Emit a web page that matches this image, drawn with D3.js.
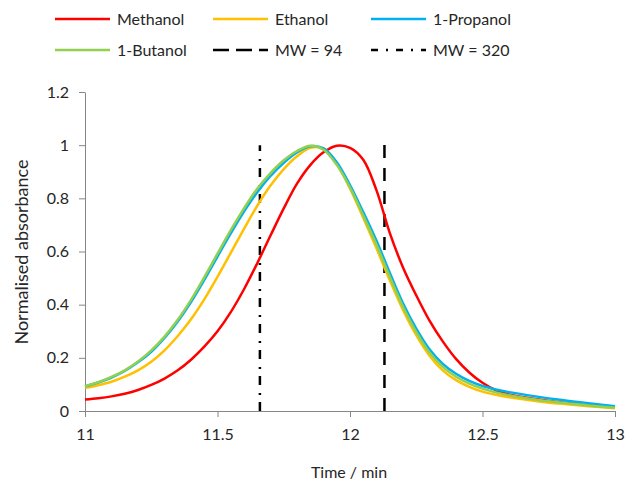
<html><head>
  <script src="https://d3js.org/d3.v7.min.js"></script>
  <style>
    body { margin: 0; background: white; }
    text { font-family: 'Lato', 'Open Sans', sans-serif; fill: #262626; }
    .axis path, .axis line { stroke: #868686; }
    .axis text { font-size: 16px; fill: #262626; }
  </style>
</head>
<body>
  <svg id="plot" width="631" height="485"></svg>
  <script>
    // data
    const times = [11.0, 11.05, 11.1, 11.15, 11.2, 11.25, 11.3, 11.35, 11.4, 11.45, 11.5, 11.55, 11.6, 11.65, 11.7, 11.75,
                   11.8, 11.85, 11.9, 11.95, 12.0, 12.05, 12.1, 12.15, 12.2, 12.25, 12.3, 12.35, 12.4, 12.45, 12.5, 12.55,
                   12.6, 12.7, 12.8, 12.9, 13.0]
    const methanol = [0.043, 0.048, 0.055, 0.065, 0.079, 0.098, 0.122, 0.153, 0.193, 0.242, 0.300, 0.372, 0.458, 0.556, 0.660, 0.762,
                      0.855, 0.925, 0.973, 0.998, 0.990, 0.945, 0.830, 0.670, 0.540, 0.435, 0.340, 0.262, 0.196, 0.145, 0.106, 0.078,
                      0.062, 0.045, 0.032, 0.022, 0.013]
    const ethanol = [0.087, 0.097, 0.110, 0.129, 0.153, 0.185, 0.228, 0.282, 0.345, 0.420, 0.505, 0.595, 0.685, 0.772, 0.848, 0.910,
                     0.958, 0.990, 0.988, 0.932, 0.837, 0.727, 0.612, 0.492, 0.380, 0.285, 0.208, 0.153, 0.116, 0.091, 0.073, 0.061,
                     0.052, 0.038, 0.027, 0.018, 0.010]
    const propanol = [0.092, 0.107, 0.126, 0.151, 0.183, 0.223, 0.275, 0.337, 0.410, 0.493, 0.581, 0.668, 0.750, 0.823, 0.884, 0.934,
                      0.973, 0.996, 0.988, 0.936, 0.850, 0.748, 0.640, 0.520, 0.405, 0.310, 0.232, 0.177, 0.140, 0.113, 0.094, 0.081,
                      0.071, 0.055, 0.041, 0.029, 0.018]
    const butanol = [0.093, 0.108, 0.128, 0.153, 0.186, 0.228, 0.280, 0.343, 0.418, 0.503, 0.592, 0.680, 0.762, 0.836, 0.895, 0.943,
                     0.978, 0.998, 0.983, 0.926, 0.840, 0.735, 0.625, 0.505, 0.392, 0.297, 0.220, 0.166, 0.129, 0.103, 0.084, 0.070,
                     0.059, 0.043, 0.031, 0.021, 0.012]
    const seriesNames = ["Methanol", "Ethanol", "1-Propanol", "1-Butanol"]
    const seriesColors = ["#FF0000", "#FFC000", "#00B0F0", "#92D050"]
    const markerNames = ["MW = 94", "MW = 320"]
    const markerTimes = [12.13, 11.66]
    const markerTops = [1.01, 1.0]
    const xTicks = [11, 11.5, 12, 12.5, 13]
    const yTicks = [0, 0.2, 0.4, 0.6, 0.8, 1, 1.2]

    const svg = d3.select("#plot")
    const margin = {top: 92, bottom: 74, left: 85, right: 16}
    const plotWidth = 631 - margin.left - margin.right
    const plotHeight = 485 - margin.top - margin.bottom

    const x = d3.scaleLinear().domain([11, 13]).range([0, plotWidth])
    const y = d3.scaleLinear().domain([0, 1.2]).range([plotHeight, 0])

    const g = svg.append("g").attr("transform", `translate(${margin.left},${margin.top})`)

    // axes
    g.append("g").attr("class", "axis")
      .attr("transform", `translate(0,${plotHeight})`)
      .call(d3.axisBottom(x).tickValues(xTicks).tickSize(6).tickSizeOuter(0).tickPadding(12).tickFormat(d3.format("")))
    g.append("g").attr("class", "axis")
      .call(d3.axisLeft(y).tickValues(yTicks).tickSize(6).tickSizeOuter(0).tickPadding(10).tickFormat(d3.format("")))

    // MW markers
    const dashes = ["13,10", "9,7,2,8"]
    markerTimes.forEach((t, i) => {
      g.append("line")
        .attr("x1", x(t)).attr("x2", x(t))
        .attr("y1", y(0)).attr("y2", y(markerTops[i]))
        .attr("stroke", "black").attr("stroke-width", 2.5)
        .attr("stroke-dasharray", dashes[i])
    })

    // curves
    const allSeries = [methanol, ethanol, propanol, butanol]
    const line = d3.line().x((d, i) => x(times[i])).y(d => y(d)).curve(d3.curveCatmullRom.alpha(0.5))
    allSeries.forEach((s, i) => {
      g.append("path").datum(s)
        .attr("d", line)
        .attr("fill", "none")
        .attr("stroke", seriesColors[i])
        .attr("stroke-width", 2.5)
    })

    // axis titles
    svg.append("text").attr("x", 349).attr("y", 478).attr("text-anchor", "middle")
      .style("font-size", "16px").text("Time / min")
    svg.append("text").attr("transform", "translate(28,252) rotate(-90)").attr("text-anchor", "middle")
      .style("font-size", "18px").text("Normalised absorbance")

    // legend
    const legendItems = [
      {name: seriesNames[0], color: seriesColors[0], dash: null},
      {name: seriesNames[1], color: seriesColors[1], dash: null},
      {name: seriesNames[2], color: seriesColors[2], dash: null},
      {name: seriesNames[3], color: seriesColors[3], dash: null},
      {name: markerNames[0], color: "black", dash: "16,7"},
      {name: markerNames[1], color: "black", dash: "7,8,2,8"}
    ]
    const legend = svg.append("g")
    legendItems.forEach((d, i) => {
      const lx = 55 + (i % 3) * 158
      const ly = 19 + Math.floor(i / 3) * 31
      legend.append("line").attr("x1", lx).attr("x2", lx + 55).attr("y1", ly).attr("y2", ly)
        .attr("stroke", d.color).attr("stroke-width", 2.5)
        .attr("stroke-dasharray", d.dash)
      legend.append("text").attr("x", lx + 62).attr("y", ly + 6)
        .style("font-size", "16px").text(d.name)
    })
  </script>
</body>
</html>
